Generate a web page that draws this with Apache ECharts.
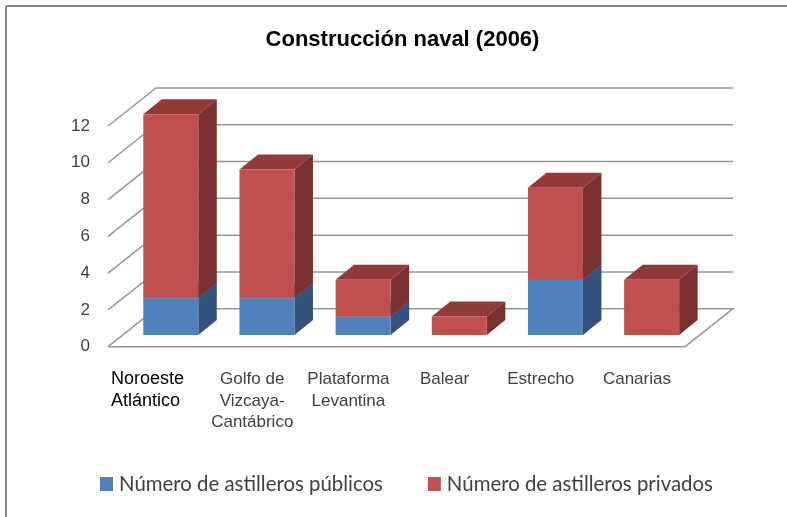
<!DOCTYPE html>
<html><head><meta charset="utf-8">
<style>html,body{margin:0;padding:0;background:#fff}#c{width:787px;height:517px}</style>
<script src="https://cdn.jsdelivr.net/npm/echarts@6/dist/echarts.min.js"></script>
</head><body><div id="c"></div>
<script>
const categories = ['Noroeste\nAtlántico','Golfo de\nVizcaya-\nCantábrico','Plataforma\nLevantina','Balear','Estrecho','Canarias'];
const publicos = [2,2,1,0,3,0];
const privados = [10,7,2,1,5,3];
const yTicks = [0,2,4,6,8,10,12];
const nameA = 'Número de astilleros públicos';
const nameB = 'Número de astilleros privados';

// 3-D projection offsets (pixels), styling only
const WALL = [48,-38], INSET = [14.7,-11.7], DEPTH = [18.5,-15], BAR_W = 55;
const GRID_C = '#979797';

function wallItem(p, api){
  const v = api.value(1);
  const c = api.coord([0,v]);
  const band = api.size([1,0])[0];
  const xl = c[0]-band/2, xr = xl+band*categories.length, y = c[1];
  const wall = [[xl,y],[xl+WALL[0],y+WALL[1]],[xr+WALL[0],y+WALL[1]]];
  if (v===0) wall.push([xr,y],[xl,y]);
  return {type:'polyline',shape:{points:wall},silent:true,
    style:{fill:null,stroke:GRID_C,lineWidth:1.5}};
}
function boxRenderer(values, bases, front, side, top){
  return function(p, api){
    const i = api.value(0), v = values[i], b = bases ? bases[i] : 0;
    if (!v) return {type:'group',children:[]};
    const c0 = api.coord([i,b]), c1 = api.coord([i,b+v]);
    const x0 = c0[0]+INSET[0]-BAR_W/2, x1 = x0+BAR_W;
    const yb = c0[1]+INSET[1], yt = c1[1]+INSET[1];
    const dx = DEPTH[0], dy = DEPTH[1];
    return {type:'group',children:[
      {type:'polygon',shape:{points:[[x1,yb],[x1+dx,yb+dy],[x1+dx,yt+dy],[x1,yt]]},style:{fill:side}},
      {type:'polygon',shape:{points:[[x0,yt],[x1,yt],[x1+dx,yt+dy],[x0+dx,yt+dy]]},style:{fill:top}},
      {type:'rect',shape:{x:x0,y:yt,width:BAR_W,height:yb-yt},style:{fill:front}}
    ]};
  };
}
const chart = echarts.init(document.getElementById('c'),null,{renderer:'canvas'});
chart.setOption({
  animation:false,
  backgroundColor:'#fff',
  title:{text:'Construcción naval (2006)',left:397.5,top:24,textAlign:'center',
    textStyle:{fontFamily:'Liberation Sans',fontSize:22,fontWeight:'bold',color:'#000'}},
  legend:{data:[nameA,nameB],left:95,top:469,itemWidth:13,itemHeight:14,itemGap:45,
    icon:'rect',textStyle:{fontFamily:'Lato',fontSize:20.4,color:'#404040',padding:[0,0,0,1]}},
  grid:{left:108,right:102,top:126,bottom:170.3},
  xAxis:{type:'category',data:categories,
    axisLine:{show:false},axisTick:{show:false},splitLine:{show:false},
    axisLabel:{interval:0,margin:22,hideOverlap:false,fontFamily:'Liberation Sans',fontSize:17,color:'#404040',lineHeight:21.5,
      formatter:function(v,i){
        if(i===0) return v.split('\n').map(s=>'{first|'+s+'}').join('\n');
        return v;
      },
      rich:{first:{width:90,align:'left',color:'#000',fontFamily:'Liberation Sans',fontSize:18,lineHeight:21.5}}}},
  yAxis:{type:'value',min:0,max:12,interval:2,
    axisLine:{show:false},axisTick:{show:false},splitLine:{show:false},
    axisLabel:{margin:18,fontFamily:'Liberation Sans',fontSize:17,color:'#404040'}},
  series:[
    {type:'custom',name:'grid',silent:true,clip:false,z:1,data:yTicks.map(t=>[0,t]),encode:{x:0,y:1},renderItem:wallItem},
    {type:'custom',name:nameA,clip:false,z:2,itemStyle:{color:'#4F81BD'},
      data:publicos.map((v,i)=>[i,v]),encode:{x:0,y:1},
      renderItem:boxRenderer(publicos,null,'#4F81BD','#31527A','#3A6390')},
    {type:'custom',name:nameB,clip:false,z:3,itemStyle:{color:'#C0504D'},
      data:privados.map((v,i)=>[i,v+publicos[i]]),encode:{x:0,y:1},
      renderItem:boxRenderer(privados,publicos,'#C0504D','#7A302E','#923A38')}
  ],
  graphic:[
    {type:'line',shape:{x1:6,y1:6,x2:787,y2:6},style:{stroke:'#868686',lineWidth:2},silent:true},
    {type:'line',shape:{x1:6,y1:6,x2:6,y2:517},style:{stroke:'#868686',lineWidth:2},silent:true}
  ]
});
</script></body></html>
